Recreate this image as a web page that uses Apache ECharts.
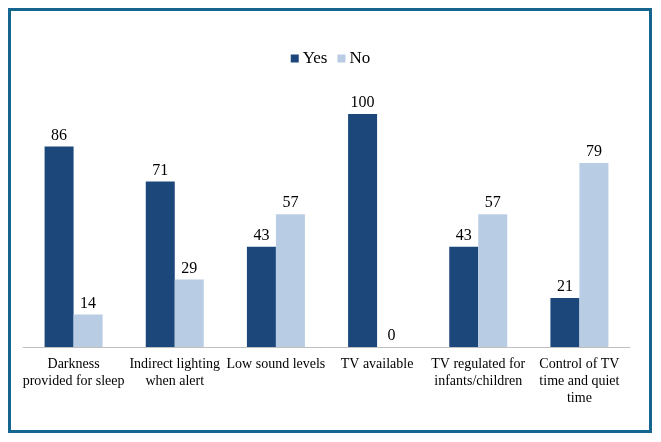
<!DOCTYPE html>
<html>
<head>
<meta charset="utf-8">
<script src="https://cdn.jsdelivr.net/npm/echarts@6/dist/echarts.min.js"></script>
<style>
html,body{margin:0;padding:0;background:#fff;}
#c{width:661px;height:442px;}
</style>
</head>
<body>
<div id="c"></div>
<script>
var categories = ["Darkness\nprovided for sleep", "Indirect lighting\nwhen alert", "Low sound levels", "TV available", "TV regulated for\ninfants/children", "Control of TV\ntime and quiet\ntime"];
var yesValues = [86, 71, 43, 100, 43, 21];
var noValues = [14, 29, 57, 0, 57, 79];
var seriesNames = ["Yes", "No"];

var chart = echarts.init(document.getElementById('c'), null, {renderer: 'canvas'});
var font = '"Liberation Serif", "Times New Roman", serif';
var labelStyle = {show: true, position: 'top', distance: 3, color: '#000', fontFamily: font, fontSize: 16};
chart.setOption({
  animation: false,
  backgroundColor: '#fff',
  textStyle: {fontFamily: font},
  legend: {
    data: seriesNames,
    top: 45,
    left: 'center',
    itemWidth: 8,
    itemHeight: 8,
    itemGap: 10,
    icon: 'rect',
    textStyle: {fontFamily: font, fontSize: 17, color: '#000', padding: [0, 0, 0, -1]}
  },
  grid: {left: 23, right: 31, top: 114, bottom: 95, containLabel: false},
  xAxis: {
    type: 'category',
    data: categories,
    axisLine: {show: true, lineStyle: {color: '#bfbfbf', width: 1}},
    axisTick: {show: false},
    axisLabel: {interval: 0, color: '#000', fontFamily: font, fontSize: 14, lineHeight: 17, margin: 9}
  },
  yAxis: {
    type: 'value',
    min: 0,
    max: 100,
    show: false,
    splitLine: {show: false}
  },
  series: [
    {name: seriesNames[0], type: 'bar', data: yesValues, barWidth: 29, barGap: '0%', itemStyle: {color: '#1c477b'}, label: labelStyle},
    {name: seriesNames[1], type: 'bar', data: noValues, barWidth: 29, barGap: '0%', itemStyle: {color: '#b8cce4'}, label: labelStyle}
  ],
  graphic: [{
    type: 'rect',
    shape: {x: 9.5, y: 9.5, width: 641, height: 422},
    style: {fill: 'none', stroke: '#14668f', lineWidth: 3},
    silent: true
  }]
});
</script>
</body>
</html>
